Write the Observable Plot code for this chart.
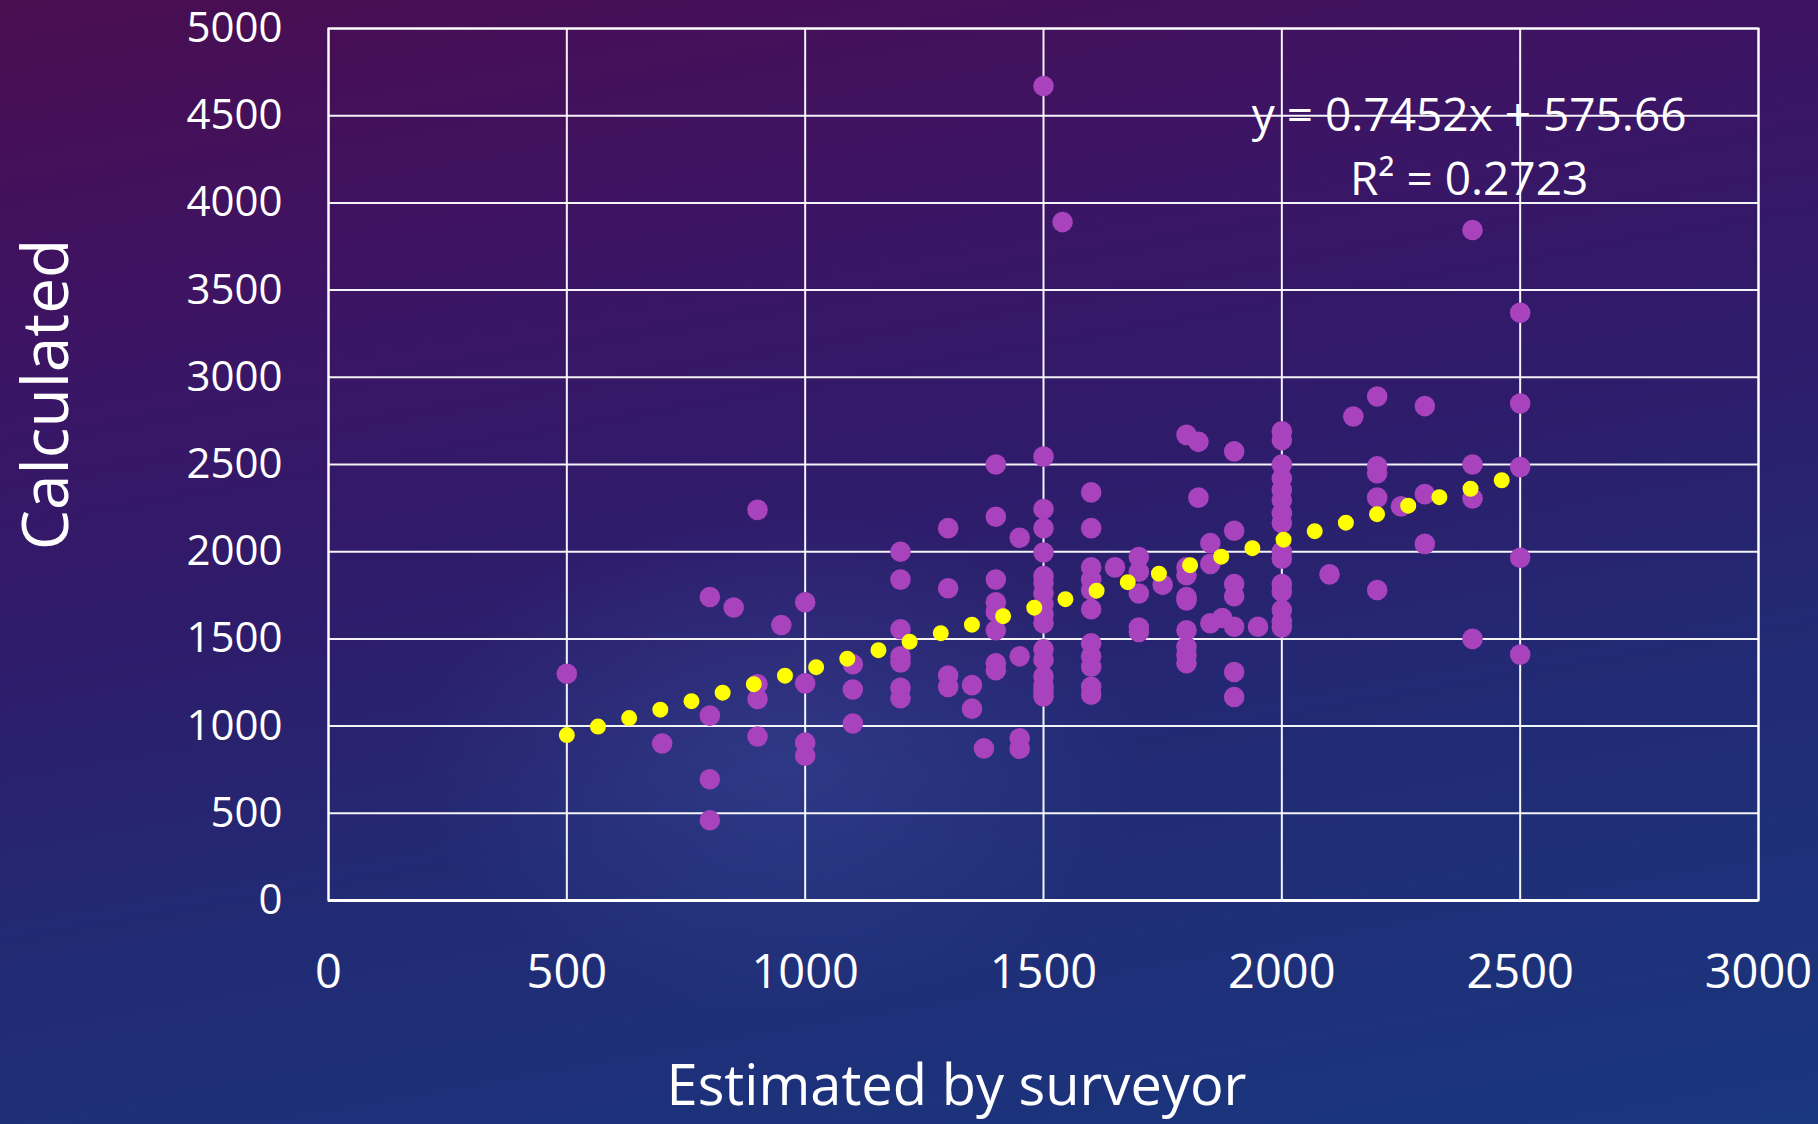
<!DOCTYPE html>
<html>
<head>
<meta charset="utf-8">
<script src="https://cdn.jsdelivr.net/npm/d3@7"></script>
<script src="https://cdn.jsdelivr.net/npm/@observablehq/plot@0.6"></script>
<style>
  html, body { margin: 0; padding: 0; }
  body {
    width: 1818px; height: 1124px; overflow: hidden;
    background:
      radial-gradient(ellipse 520px 360px at 780px 760px, rgba(70,95,175,0.30), rgba(0,0,0,0) 70%),
      linear-gradient(170deg, #4a0d50 0%, #3d1464 24%, #2e1c6b 46%, #222a74 66%, #19377f 100%);
    font-family: "Open Sans", sans-serif;
  }
  #chart svg { display: block; }
</style>
</head>
<body>
<div id="chart"></div>
<script>
// Survey data: x = estimated by surveyor, y = calculated
const estimated = [
  500,
  700,
  800, 800, 800, 800,
  850,
  900, 900, 900, 900,
  950,
  1000, 1000, 1000, 1000,
  1100, 1100, 1100,
  1200, 1200, 1200, 1200, 1200, 1200, 1200,
  1300, 1300, 1300, 1300,
  1350, 1350,
  1375,
  1400, 1400, 1400, 1400, 1400, 1400, 1400, 1400,
  1450, 1450, 1450, 1450,
  1500, 1500, 1500, 1500, 1500, 1500, 1500, 1500, 1500, 1500, 1500, 1500, 1500, 1500, 1500, 1500, 1500,
  1540,
  1600, 1600, 1600, 1600, 1600, 1600, 1600, 1600, 1600, 1600, 1600,
  1650,
  1700, 1700, 1700, 1700, 1700,
  1750,
  1800, 1800, 1800, 1800, 1800, 1800, 1800, 1800, 1800,
  1825, 1825,
  1850, 1850, 1850,
  1875,
  1900, 1900, 1900, 1900, 1900, 1900, 1900,
  1950,
  2000, 2000, 2000, 2000, 2000, 2000, 2000, 2000, 2000, 2000, 2000, 2000, 2000, 2000, 2000,
  2100,
  2150,
  2200, 2200, 2200, 2200, 2200,
  2250,
  2300, 2300, 2300,
  2400, 2400, 2400, 2400,
  2500, 2500, 2500, 2500, 2500
];
const calculated = [
  1300,
  900,
  1740, 1060, 695, 460,
  1680,
  2240, 1240, 1155, 940,
  1580,
  1710, 1245, 905, 830,
  1355, 1210, 1015,
  2000, 1840, 1555, 1400, 1365, 1220, 1160,
  2135, 1790, 1290, 1225,
  1235, 1100,
  872,
  2500, 2200, 1840, 1710, 1655, 1550, 1360, 1320,
  2080, 1400, 930, 870,
  4670, 2545, 2245, 2135, 1995, 1860, 1820, 1760, 1700, 1640, 1590, 1440, 1380, 1285, 1230, 1200, 1170,
  3890,
  2340, 2135, 1910, 1840, 1780, 1670, 1475, 1400, 1340, 1225, 1180,
  1910,
  1970, 1885, 1760, 1565, 1540,
  1810,
  2670, 1910, 1865, 1740, 1720, 1550, 1455, 1405, 1360,
  2630, 2310,
  2050, 1930, 1590,
  1620,
  2575, 2120, 1815, 1745, 1570, 1310, 1167,
  1570,
  2690, 2640, 2500, 2420, 2355, 2295, 2220, 2165, 2000, 1960, 1815, 1770, 1665, 1600, 1565,
  1870,
  2775,
  2890, 2490, 2450, 2310, 1780,
  2260,
  2835, 2330, 2045,
  3845, 2500, 2305, 1500,
  3370, 2850, 2485, 1965, 1410
];

// Linear trendline endpoints (as shown: y = 0.7452x + 575.66)
const trendX = [500, 2500];
const trendY = [948.3, 2438.7];

const xTicks = [0, 500, 1000, 1500, 2000, 2500, 3000];
const yTicks = [0, 500, 1000, 1500, 2000, 2500, 3000, 3500, 4000, 4500, 5000];

const equationLines = ["y = 0.7452x + 575.66", "R² = 0.2723"];
const xTitle = "Estimated by surveyor";
const yTitle = "Calculated";

const points = estimated.map((e, i) => ({est: e, calc: calculated[i]}));
const trend = trendX.map((x, i) => ({est: x, calc: trendY[i]}));

const font = "'Open Sans', 'Noto Sans', sans-serif";
const plain = d => String(d);

const chart = Plot.plot({
  width: 1818,
  height: 1124,
  marginLeft: 328,
  marginRight: 60,
  marginTop: 28,
  marginBottom: 224,
  style: {background: "transparent", color: "white", fontFamily: font, overflow: "visible"},
  x: {domain: [0, 3000]},
  y: {domain: [0, 5000]},
  marks: [
    Plot.gridX(xTicks, {stroke: "white", strokeOpacity: 0.95, strokeWidth: 2}),
    Plot.gridY(yTicks, {stroke: "white", strokeOpacity: 0.95, strokeWidth: 2}),
    Plot.frame({stroke: "white", strokeWidth: 2}),
    Plot.ruleY([0], {stroke: "white", strokeWidth: 3}),
    Plot.axisX(xTicks, {tickSize: 0, tickPadding: 54, tickFormat: plain, fontSize: 47, fill: "white", label: null, fontFamily: font}),
    Plot.axisY(yTicks, {tickSize: 0, tickPadding: 46, tickFormat: plain, fontSize: 42, fill: "white", label: null, fontFamily: font}),
    Plot.dot(points, {x: "est", y: "calc", r: 10.3, fill: "#a842bd", stroke: "none"}),
    Plot.line(trend, {x: "est", y: "calc", stroke: "#ffff00", strokeWidth: 16, strokeLinecap: "round", strokeDasharray: "0 32.3"}),
    Plot.text([equationLines.join("\n")], {x: 2393, y: 4047, text: d => d, textAnchor: "middle", lineAnchor: "bottom", lineHeight: 1.39, fontSize: 46, fill: "white", fontFamily: font}),
    Plot.text([yTitle], {frameAnchor: "left", text: d => d, rotate: -90, dx: -261, dy: -70, lineAnchor: "bottom", textAnchor: "middle", fontSize: 64, fill: "white", fontFamily: font}),
    Plot.text([xTitle], {frameAnchor: "bottom", text: d => d, dx: -87, dy: 204, lineAnchor: "bottom", textAnchor: "middle", fontSize: 56, fill: "white", fontFamily: font})
  ]
});
document.getElementById("chart").appendChild(chart);
</script>
</body>
</html>
